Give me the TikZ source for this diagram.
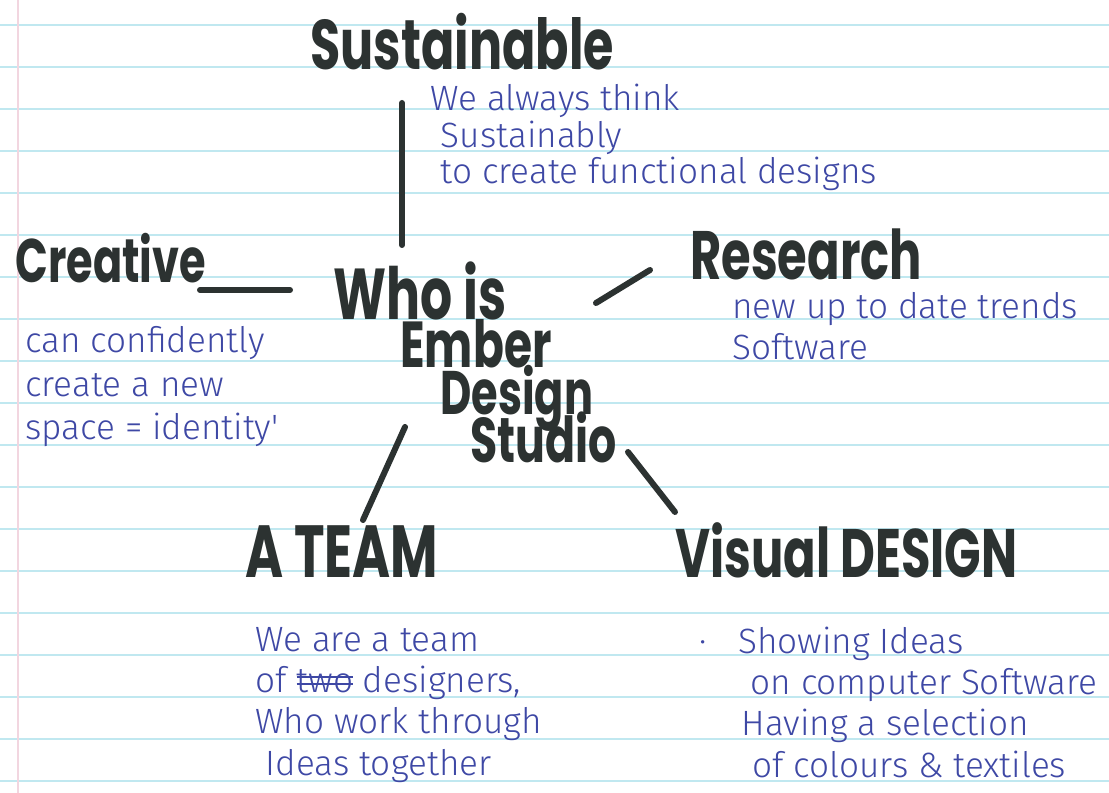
\documentclass[tikz,border=0pt]{standalone}
\usepackage{fontspec}
\newfontfamily\markerfont{Poppins}[FakeStretch=0.7]
\newfontfamily\penfont{Fira Sans Light}
\definecolor{markergrey}{RGB}{44,50,49}
\definecolor{penblue}{RGB}{62,72,165}
\definecolor{ruleblue}{RGB}{192,232,240}
\definecolor{marginpink}{RGB}{242,214,224}
\newlength\strikelen
\newcommand\struck[1]{\settowidth{\strikelen}{#1}%
  \rlap{\rule[0.22em]{\strikelen}{1.1pt}}\rlap{\rule[0.42em]{\strikelen}{1.1pt}}#1}

\tikzset{
  marker/.style={font=\markerfont\bfseries\fontsize{#1}{#1}\selectfont,
    text=markergrey, inner sep=0pt, text depth=0pt, anchor=base west},
  pen/.style={font=\penfont\fontsize{20}{#1}\selectfont,
    text=penblue, inner sep=0pt, anchor=base west, align=left},
  pen/.default=23.5,
  stroke/.style={draw=markergrey, line width=0.12cm, line cap=round},
  ruled/.style={draw=ruleblue, line width=0.04cm},
}

\begin{document}
\begin{tikzpicture}[x=0.02cm,y=-0.02cm]
  \useasboundingbox (0,0) rectangle (1109,793);
  \fill[white] (0,0) rectangle (1109,793);

  % the lined paper
  \foreach \k in {0,...,18}
    \draw[ruled] (0,25+42*\k) -- (1109,25+42*\k);
  \draw[marginpink, line width=0.03cm] (18,0) -- (18,793);

  % centre
  \node[marker=41] (who) at (333,320) {Who is};
  \node[marker=37] (ember) at (400,368) {Ember};
  \node[marker=35] (design) at (440,415) {Design};
  \node[marker=36] (studio) at (470,463) {Studio};

  % branches
  \node[marker=40] (sust) at (310,70) {Sustainable};
  \node[marker=35] (crea) at (15,283) {Creative};
  \node[marker=39] (rese) at (690,280) {Research};
  \node[marker=42] (team) at (245,578) {A TEAM};
  \node[marker=39] (visu) at (675,578) {Visual DESIGN};

  % notes (placed at the last line)
  \node[pen=21] (sustnote) at (430,184)
    {We always think\\\hspace*{6pt}Sustainably\\\hspace*{6pt}to create functional designs};
  \node[pen=25] (creanote) at (25,440)
    {can confidently\\create a new\\space = identity'};
  \node[pen] (resenote) at (732,360) {new up to date trends\\Software};
  \node[pen] (teamnote) at (255,775)
    {We are a team\\of \struck{two} designers,\\Who work through\\\hspace*{6pt}Ideas together};
  \node[pen] (visunote) at (738,777)
    {\llap{\textperiodcentered\hspace{18pt}}Showing Ideas\\\hspace*{7pt}on computer Software\\\hspace*{2pt}Having a selection\\\hspace*{8pt}of colours \& textiles};

  % strokes
  \coordinate (sust-a) at (402,103);
  \coordinate (sust-b) at (402,245);
  \coordinate (crea-a) at (200,290);
  \coordinate (crea-b) at (290,290);
  \coordinate (rese-a) at (596,303);
  \coordinate (rese-b) at (650,270);
  \coordinate (team-a) at (405,427);
  \coordinate (team-b) at (363,520);
  \coordinate (visu-a) at (628,452);
  \coordinate (visu-b) at (675,512);
  \draw[stroke] (sust-a) -- (sust-b);
  \draw[stroke] (crea-a) -- (crea-b);
  \draw[stroke] (rese-a) -- (rese-b);
  \draw[stroke] (team-a) -- (team-b);
  \draw[stroke] (visu-a) -- (visu-b);
\end{tikzpicture}
\end{document}
